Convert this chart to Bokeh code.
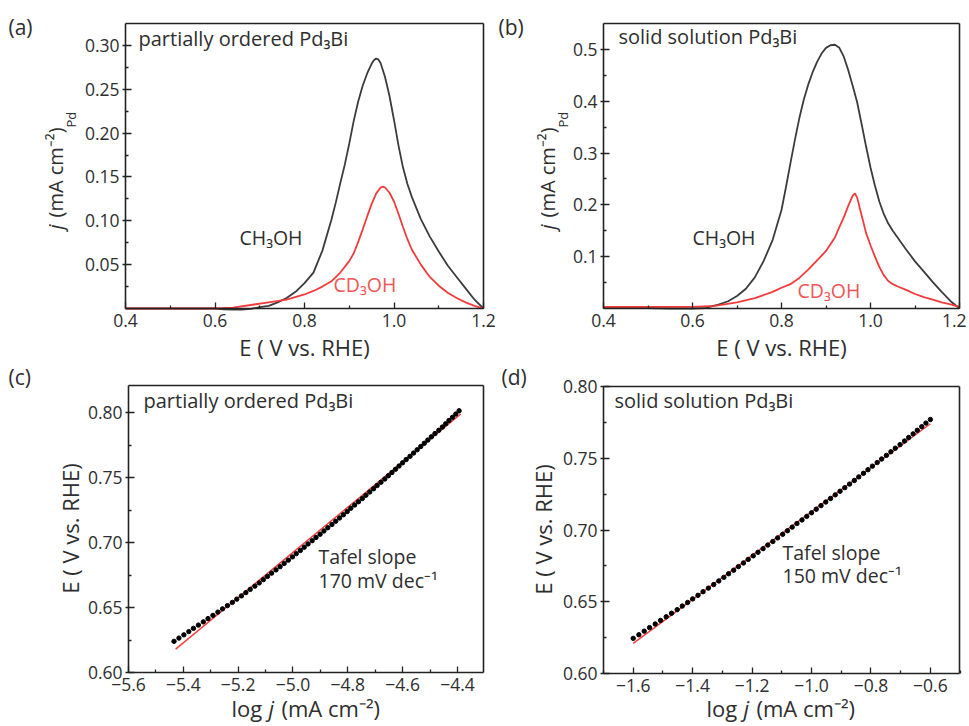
from bokeh.plotting import figure
from bokeh.models import (FixedTicker, CustomJSTickFormatter, Label, LinearAxis, Range1d)
from bokeh.embed import file_html
from bokeh.resources import INLINE

FONT = "Open Sans"
TXT = "#2e2e2e"
AXC = "#222222"
LINE_BLACK = "#3c3c3c"
LINE_RED = "#f23c3c"
TEXT_RED = "#f25555"

# ---------------- data ----------------
# (a) partially ordered Pd3Bi
A_E_CH3OH = [0.40, 0.50, 0.60, 0.62, 0.64, 0.66, 0.68, 0.70, 0.72, 0.74,
             0.76, 0.78, 0.80, 0.82, 0.84, 0.86, 0.87, 0.88, 0.89, 0.90,
             0.91, 0.92, 0.93, 0.94, 0.95, 0.955, 0.96, 0.965, 0.97, 0.98,
             0.99, 1.00, 1.01, 1.02, 1.03, 1.04, 1.06, 1.08, 1.10, 1.12,
             1.14, 1.16, 1.18, 1.20]
A_J_CH3OH = [0.000, 0.000, 0.000, -0.001, -0.0012, -0.0012, -0.0005, 0.0015, 0.003, 0.007,
             0.012, 0.019, 0.029, 0.041, 0.066, 0.101, 0.121, 0.143, 0.164, 0.188,
             0.214, 0.236, 0.254, 0.268, 0.279, 0.283, 0.285, 0.284, 0.280, 0.264,
             0.242, 0.215, 0.186, 0.161, 0.142, 0.127, 0.102, 0.082, 0.065, 0.049,
             0.036, 0.023, 0.010, 0.000]
A_E_CD3OH = [0.40, 0.60, 0.64, 0.68, 0.72, 0.76, 0.80, 0.82, 0.84, 0.86,
             0.88, 0.90, 0.91, 0.92, 0.93, 0.94, 0.95, 0.96, 0.97, 0.975,
             0.98, 0.99, 1.00, 1.01, 1.02, 1.03, 1.04, 1.06, 1.08, 1.10,
             1.12, 1.14, 1.16, 1.18, 1.20]
A_J_CD3OH = [0.000, 0.000, 0.001, 0.004, 0.007, 0.010, 0.016, 0.020, 0.025, 0.031,
             0.041, 0.054, 0.063, 0.076, 0.090, 0.105, 0.119, 0.131, 0.138, 0.139,
             0.138, 0.132, 0.122, 0.108, 0.093, 0.079, 0.067, 0.050, 0.036, 0.026,
             0.018, 0.012, 0.007, 0.003, 0.000]

# (b) solid solution Pd3Bi
B_E_CH3OH = [0.40, 0.45, 0.50, 0.55, 0.60, 0.63, 0.66, 0.68, 0.70, 0.72,
             0.74, 0.76, 0.78, 0.80, 0.81, 0.82, 0.83, 0.84, 0.85, 0.86,
             0.87, 0.88, 0.89, 0.90, 0.91, 0.92, 0.93, 0.94, 0.95, 0.96,
             0.97, 0.98, 0.99, 1.00, 1.01, 1.02, 1.03, 1.04, 1.05, 1.06,
             1.08, 1.10, 1.12, 1.14, 1.16, 1.18, 1.20]
B_J_CH3OH = [0.002, 0.001, 0.001, 0.000, 0.000, 0.001, 0.008, 0.014, 0.024, 0.038,
             0.060, 0.092, 0.132, 0.190, 0.234, 0.280, 0.325, 0.367, 0.403, 0.432,
             0.456, 0.476, 0.492, 0.503, 0.508, 0.509, 0.503, 0.486, 0.460, 0.430,
             0.398, 0.356, 0.313, 0.272, 0.237, 0.206, 0.182, 0.164, 0.150, 0.138,
             0.114, 0.091, 0.071, 0.051, 0.032, 0.014, 0.000]
B_E_CD3OH = [0.40, 0.50, 0.60, 0.65, 0.70, 0.74, 0.78, 0.80, 0.82, 0.84,
             0.86, 0.88, 0.90, 0.92, 0.93, 0.94, 0.95, 0.96, 0.965, 0.97,
             0.98, 0.99, 1.00, 1.01, 1.02, 1.03, 1.04, 1.05, 1.06, 1.08,
             1.10, 1.12, 1.14, 1.16, 1.18, 1.20]
B_J_CD3OH = [0.003, 0.003, 0.003, 0.005, 0.012, 0.020, 0.032, 0.040, 0.047, 0.059,
             0.075, 0.093, 0.111, 0.137, 0.157, 0.176, 0.198, 0.218, 0.222, 0.214,
             0.180, 0.146, 0.122, 0.100, 0.080, 0.064, 0.053, 0.047, 0.043, 0.036,
             0.028, 0.022, 0.017, 0.012, 0.008, 0.003]

# (c) Tafel plot, partially ordered Pd3Bi
C_LOGJ = [-5.434, -5.416, -5.398, -5.380, -5.363, -5.345, -5.327, -5.310, -5.292, -5.274,
          -5.257, -5.239, -5.221, -5.205, -5.188, -5.172, -5.156, -5.139, -5.123, -5.108,
          -5.093, -5.078, -5.062, -5.047, -5.032, -5.017, -5.002, -4.988, -4.973, -4.959,
          -4.945, -4.930, -4.916, -4.901, -4.887, -4.873, -4.858, -4.844, -4.830, -4.816,
          -4.802, -4.789, -4.775, -4.761, -4.747, -4.734, -4.720, -4.706, -4.693, -4.679,
          -4.665, -4.652, -4.639, -4.626, -4.613, -4.600, -4.587, -4.573, -4.560, -4.547,
          -4.534, -4.521, -4.508, -4.495, -4.482, -4.468, -4.455, -4.443, -4.431, -4.418,
          -4.406, -4.394]
C_E = [0.6240, 0.6265, 0.6290, 0.6315, 0.6340, 0.6365, 0.6390, 0.6415, 0.6440, 0.6465,
       0.6490, 0.6515, 0.6540, 0.6565, 0.6590, 0.6615, 0.6640, 0.6665, 0.6690, 0.6715,
       0.6740, 0.6765, 0.6790, 0.6815, 0.6840, 0.6865, 0.6890, 0.6915, 0.6940, 0.6965,
       0.6990, 0.7015, 0.7040, 0.7065, 0.7090, 0.7115, 0.7140, 0.7165, 0.7190, 0.7215,
       0.7240, 0.7265, 0.7290, 0.7315, 0.7340, 0.7365, 0.7390, 0.7415, 0.7440, 0.7465,
       0.7490, 0.7515, 0.7540, 0.7565, 0.7590, 0.7615, 0.7640, 0.7665, 0.7690, 0.7715,
       0.7740, 0.7765, 0.7790, 0.7815, 0.7840, 0.7865, 0.7890, 0.7915, 0.7940, 0.7965,
       0.7990, 0.8015]
C_FIT_LOGJ = [-5.428, -4.388]
C_FIT_E = [0.618, 0.799]

# (d) Tafel plot, solid solution Pd3Bi
D_LOGJ = [-1.600, -1.581, -1.563, -1.545, -1.526, -1.508, -1.489, -1.471, -1.452, -1.435,
          -1.417, -1.400, -1.382, -1.365, -1.347, -1.329, -1.312, -1.295, -1.279, -1.262,
          -1.246, -1.229, -1.213, -1.196, -1.180, -1.163, -1.147, -1.130, -1.114, -1.097,
          -1.081, -1.065, -1.049, -1.032, -1.016, -1.000, -0.984, -0.968, -0.952, -0.936,
          -0.920, -0.904, -0.888, -0.872, -0.856, -0.841, -0.825, -0.810, -0.795, -0.779,
          -0.764, -0.748, -0.733, -0.718, -0.702, -0.687, -0.673, -0.658, -0.644, -0.629,
          -0.615, -0.600]
D_E = [0.6245, 0.6270, 0.6295, 0.6320, 0.6345, 0.6370, 0.6395, 0.6420, 0.6445, 0.6470,
       0.6495, 0.6520, 0.6545, 0.6570, 0.6595, 0.6620, 0.6645, 0.6670, 0.6695, 0.6720,
       0.6745, 0.6770, 0.6795, 0.6820, 0.6845, 0.6870, 0.6895, 0.6920, 0.6945, 0.6970,
       0.6995, 0.7020, 0.7045, 0.7070, 0.7095, 0.7120, 0.7145, 0.7170, 0.7195, 0.7220,
       0.7245, 0.7270, 0.7295, 0.7320, 0.7345, 0.7370, 0.7395, 0.7420, 0.7445, 0.7470,
       0.7495, 0.7520, 0.7545, 0.7570, 0.7595, 0.7620, 0.7645, 0.7670, 0.7695, 0.7720,
       0.7745, 0.7770]
D_FIT_LOGJ = [-1.600, -0.600]
D_FIT_E = [0.621, 0.774]

# ticks
CV_XTICKS = [0.4, 0.6, 0.8, 1.0, 1.2]
CV_XMINOR = [0.5, 0.7, 0.9, 1.1]
A_YTICKS = [0.05, 0.10, 0.15, 0.20, 0.25, 0.30]
A_YMINOR = [0.025, 0.075, 0.125, 0.175, 0.225, 0.275]
B_YTICKS = [0.1, 0.2, 0.3, 0.4, 0.5]
B_YMINOR = [0.05, 0.15, 0.25, 0.35, 0.45]
C_XTICKS = [-5.6, -5.4, -5.2, -5.0, -4.8, -4.6, -4.4]
C_XMINOR = [-5.5, -5.3, -5.1, -4.9, -4.7, -4.5]
D_XTICKS = [-1.6, -1.4, -1.2, -1.0, -0.8, -0.6]
D_XMINOR = [-1.7, -1.5, -1.3, -1.1, -0.9, -0.7, -0.5]
T_YTICKS = [0.60, 0.65, 0.70, 0.75, 0.80]
T_YMINOR = [0.625, 0.675, 0.725, 0.775]

# ---------------- layout (page pixels, canvas at page origin) ----------------
W, H = 966, 724


def cx(px):
    return px


def cy(py):
    return H - py      # canvas y measured upward


# panel frames: (page_left, page_right, data_left, data_right), (page_bottom, page_top, data_bottom, data_top)
PANELS = {
    "a": ((125, 483, 0.4, 1.2), (308, 23, 0.0, 0.325)),
    "b": ((603, 959, 0.4, 1.2), (308, 23, 0.0, 0.55)),
    "c": ((128, 483, -5.6, -4.305), (672, 385, 0.60, 0.821)),
    "d": ((603, 959, -1.70, -0.502), (673, 386, 0.60, 0.80)),
}


def lin_range(p0, p1, d0, d1, length):
    k = (d1 - d0) / (p1 - p0)
    start = d0 - p0 * k
    return Range1d(start, start + length * k)


p = figure(width=W, height=H, x_range=Range1d(0, W), y_range=Range1d(0, H),
           x_axis_type=None, y_axis_type=None, output_backend="svg",
           toolbar_location=None, min_border=0)
p.outline_line_color = None
p.background_fill_color = "white"
p.border_fill_color = "white"

xr, yr = {}, {}
for key, ((pl, pr, dl, dr), (pb, pt, db, dt)) in PANELS.items():
    xr[key + "x"] = lin_range(cx(pl), cx(pr), dl, dr, W)
    yr[key + "y"] = lin_range(cy(pb), cy(pt), db, dt, H)
p.extra_x_ranges = xr
p.extra_y_ranges = yr


def fmt(dec):
    return CustomJSTickFormatter(code="return tick.toFixed(%d).replace('-', '\u2212');" % dec)


def style_axis(ax, vertical):
    ax.axis_line_color = AXC
    ax.axis_line_width = 1.6
    ax.major_tick_line_color = AXC
    ax.minor_tick_line_color = AXC
    ax.major_tick_line_width = 1.3
    ax.minor_tick_line_width = 1.3
    ax.major_tick_in = 6
    ax.major_tick_out = 3 if vertical else 0
    ax.minor_tick_in = 3
    ax.minor_tick_out = 0
    ax.major_label_text_font = FONT
    ax.major_label_text_font_size = "17.5px"
    ax.major_label_text_color = TXT
    ax.major_label_standoff = 3 if vertical else 5


def frame_axes(key, xt, xm, yt, ym, xdec, ydec):
    (pl, pr, dl, dr), (pb, pt, db, dt) = PANELS[key]
    xn, yn = key + "x", key + "y"
    bottom = LinearAxis(x_range_name=xn, y_range_name=yn, fixed_location=db, bounds=(dl, dr),
                        ticker=FixedTicker(ticks=xt, minor_ticks=xm), formatter=fmt(xdec))
    style_axis(bottom, False)
    p.add_layout(bottom, "below")
    left = LinearAxis(x_range_name=xn, y_range_name=yn, fixed_location=dl, bounds=(db, dt),
                      ticker=FixedTicker(ticks=yt, minor_ticks=ym), formatter=fmt(ydec))
    style_axis(left, True)
    p.add_layout(left, "left")
    top = LinearAxis(x_range_name=xn, y_range_name=yn, fixed_location=dt, bounds=(dl, dr),
                     ticker=FixedTicker(ticks=[], minor_ticks=[]))
    style_axis(top, False)
    p.add_layout(top, "above")
    right = LinearAxis(x_range_name=xn, y_range_name=yn, fixed_location=dr, bounds=(db, dt),
                       ticker=FixedTicker(ticks=[], minor_ticks=[]))
    style_axis(right, True)
    p.add_layout(right, "right")


def txt(px, py, text, size, color=TXT, align="left", angle=0.0, style="normal"):
    # (px, py): page position of the text start (or centre) and of its vertical middle
    p.add_layout(Label(x=cx(px), y=cy(py), text=text, text_font=FONT,
                       text_font_size="%spx" % size, text_color=color,
                       text_align=align, text_baseline="middle", angle=angle,
                       text_font_style=style))


HALF_PI = 1.5707963267948966

# ---------- (a) ----------
frame_axes("a", CV_XTICKS, CV_XMINOR, A_YTICKS, A_YMINOR, 1, 2)
p.line(A_E_CH3OH, A_J_CH3OH, x_range_name="ax", y_range_name="ay", line_color=LINE_BLACK, line_width=1.8)
p.line(A_E_CD3OH, A_J_CD3OH, x_range_name="ax", y_range_name="ay", line_color=LINE_RED, line_width=1.8)
txt(8, 26, "(a)", 21)
txt(138, 38, "partially ordered Pd\u2083Bi", 20)
txt(239, 237, "CH\u2083OH", 19.5)
txt(333, 284, "CD\u2083OH", 19.5, color=TEXT_RED)
txt(304, 346, "E ( V vs. RHE)", 22, align="center")
txt(55, 229, "j", 20, angle=HALF_PI, style="italic")
txt(55, 217, "(mA cm\u207b\u00b2)", 20, angle=HALF_PI)
txt(70, 127, "Pd", 13, angle=HALF_PI)

# ---------- (b) ----------
frame_axes("b", CV_XTICKS, CV_XMINOR, B_YTICKS, B_YMINOR, 1, 1)
p.line(B_E_CH3OH, B_J_CH3OH, x_range_name="bx", y_range_name="by", line_color=LINE_BLACK, line_width=1.8)
p.line(B_E_CD3OH, B_J_CD3OH, x_range_name="bx", y_range_name="by", line_color=LINE_RED, line_width=1.8)
txt(498, 26, "(b)", 21)
txt(618, 36, "solid solution Pd\u2083Bi", 20)
txt(692, 237, "CH\u2083OH", 19.5)
txt(797, 290, "CD\u2083OH", 19.5, color=TEXT_RED)
txt(781, 346, "E ( V vs. RHE)", 22, align="center")
txt(547, 229, "j", 20, angle=HALF_PI, style="italic")
txt(547, 217, "(mA cm\u207b\u00b2)", 20, angle=HALF_PI)
txt(562, 127, "Pd", 13, angle=HALF_PI)

# ---------- (c) ----------
frame_axes("c", C_XTICKS, C_XMINOR, T_YTICKS, T_YMINOR, 1, 2)
p.line(C_FIT_LOGJ, C_FIT_E, x_range_name="cx", y_range_name="cy", line_color=LINE_RED, line_width=1.4)
p.scatter(C_LOGJ, C_E, x_range_name="cx", y_range_name="cy", marker="circle", size=4.4, color="black")
txt(8, 376, "(c)", 21)
txt(143, 400, "partially ordered Pd\u2083Bi", 20)
txt(318, 556, "Tafel slope", 19.5)
txt(318, 580, "170 mV dec\u207b\u00b9", 19.5)
txt(69, 528, "E ( V vs. RHE)", 22, align="center", angle=HALF_PI)
txt(231, 707, "log", 22)
txt(268, 707, "j", 22, style="italic")
txt(281, 707, "(mA cm\u207b\u00b2)", 22)

# ---------- (d) ----------
frame_axes("d", D_XTICKS, D_XMINOR, T_YTICKS, T_YMINOR, 1, 2)
p.line(D_FIT_LOGJ, D_FIT_E, x_range_name="dx", y_range_name="dy", line_color=LINE_RED, line_width=1.4)
p.scatter(D_LOGJ, D_E, x_range_name="dx", y_range_name="dy", marker="circle", size=4.4, color="black")
txt(501, 376, "(d)", 21)
txt(614, 400, "solid solution Pd\u2083Bi", 20)
txt(782, 552, "Tafel slope", 19.5)
txt(782, 575, "150 mV dec\u207b\u00b9", 19.5)
txt(542, 529, "E ( V vs. RHE)", 22, align="center", angle=HALF_PI)
txt(706, 707, "log", 22)
txt(743, 707, "j", 22, style="italic")
txt(756, 707, "(mA cm\u207b\u00b2)", 22)

open("out.html", "w").write(file_html(p, INLINE))
